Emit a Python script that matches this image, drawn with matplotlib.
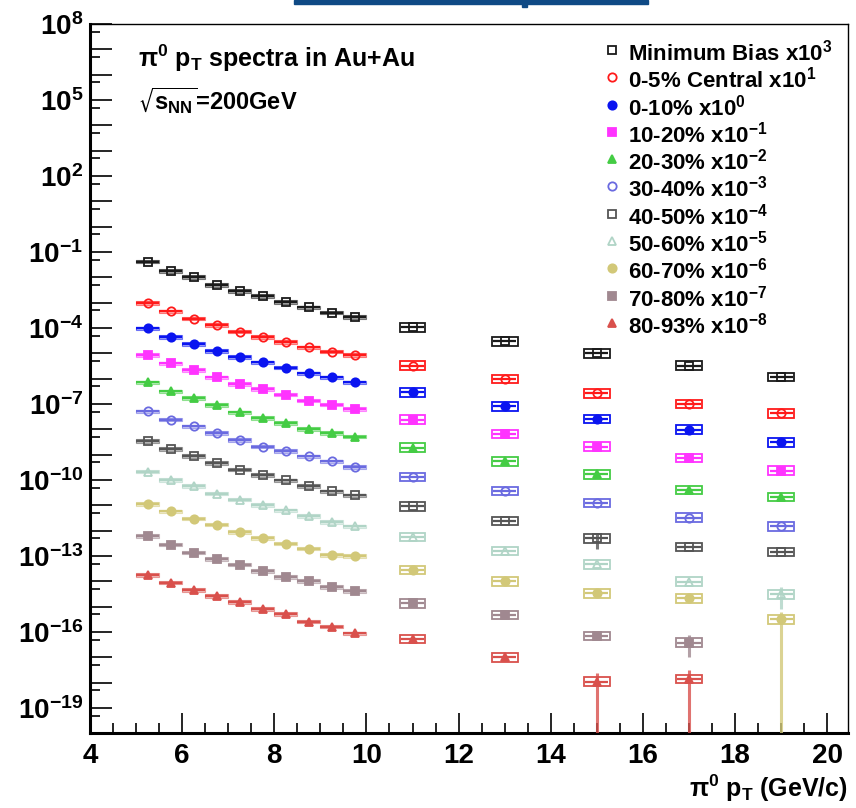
import numpy as np
import matplotlib.pyplot as plt
from matplotlib.patches import Rectangle
from matplotlib.ticker import FixedLocator, FuncFormatter, NullFormatter

plt.rcParams['font.family'] = ['Liberation Sans', 'DejaVu Sans']
plt.rcParams['font.weight'] = 'bold'
plt.rcParams['mathtext.default'] = 'regular'

# pi0 pT bins (GeV/c)
pt = [5.25, 5.75, 6.25, 6.75, 7.25, 7.75, 8.25, 8.75, 9.25, 9.75, 11, 13, 15, 17, 19]

labels = ['Minimum Bias x10$^{3}$', '0-5% Central x10$^{1}$', '0-10% x10$^{0}$',
          '10-20% x10$^{-1}$', '20-30% x10$^{-2}$', '30-40% x10$^{-3}$',
          '40-50% x10$^{-4}$', '50-60% x10$^{-5}$', '60-70% x10$^{-6}$',
          '70-80% x10$^{-7}$', '80-93% x10$^{-8}$']

# scaled yields
min_bias = [4.17e-2, 1.78e-2, 1.02e-2, 5.01e-3, 2.88e-3, 1.82e-3, 1.07e-3, 6.46e-4, 4.07e-4, 2.75e-4,
            1.07e-4, 2.95e-5, 1.0e-5, 3.24e-6, 1.17e-6]
c0_5 = [9.55e-4, 4.47e-4, 2.34e-4, 1.32e-4, 7.24e-5, 4.47e-5, 2.82e-5, 1.70e-5, 1.17e-5, 8.51e-6,
        3.24e-6, 9.55e-7, 2.63e-7, 1.0e-7, 4.27e-8]
c0_10 = [9.55e-5, 4.47e-5, 2.29e-5, 1.26e-5, 7.24e-6, 4.37e-6, 2.75e-6, 1.62e-6, 1.12e-6, 7.08e-7,
         2.88e-7, 8.13e-8, 2.57e-8, 9.77e-9, 3.09e-9]
c10_20 = [8.51e-6, 3.98e-6, 2.19e-6, 1.12e-6, 6.17e-7, 3.89e-7, 2.34e-7, 1.35e-7, 9.33e-8, 6.31e-8,
          2.40e-8, 6.61e-9, 2.09e-9, 7.24e-10, 2.34e-10]
c20_30 = [7.08e-7, 3.16e-7, 1.74e-7, 9.12e-8, 4.68e-8, 2.82e-8, 1.78e-8, 1.05e-8, 7.08e-9, 5.13e-9,
          1.86e-9, 5.50e-10, 1.66e-10, 4.07e-11, 2.14e-11]
c30_40 = [5.13e-8, 2.40e-8, 1.29e-8, 7.08e-9, 3.80e-9, 2.09e-9, 1.38e-9, 8.51e-10, 5.37e-10, 3.24e-10,
          1.29e-10, 3.63e-11, 1.23e-11, 3.24e-12, 1.48e-12]
c40_50 = [3.39e-9, 1.70e-9, 8.71e-10, 4.68e-10, 2.57e-10, 1.58e-10, 9.55e-11, 5.75e-11, 3.55e-11, 2.45e-11,
          9.12e-12, 2.40e-12, 4.90e-13, 2.29e-13, 1.45e-13]
c50_60 = [2.14e-10, 1.02e-10, 5.75e-11, 2.88e-11, 1.66e-11, 1.05e-11, 6.31e-12, 3.80e-12, 2.19e-12, 1.48e-12,
          5.62e-13, 1.58e-13, 4.68e-14, 9.55e-15, 3.02e-15]
c60_70 = [1.15e-11, 5.75e-12, 2.95e-12, 1.74e-12, 8.91e-13, 5.13e-13, 3.09e-13, 1.95e-13, 1.07e-13, 9.77e-14,
          2.75e-14, 1.0e-14, 3.31e-15, 2.09e-15, 3.16e-16]
c70_80 = [6.17e-13, 2.82e-13, 1.35e-13, 7.41e-14, 4.57e-14, 2.51e-14, 1.51e-14, 1.05e-14, 6.03e-15, 4.07e-15,
          1.35e-15, 4.68e-16, 6.92e-17, 3.80e-17, np.nan]
c80_93 = [1.74e-14, 8.91e-15, 4.47e-15, 2.57e-15, 1.55e-15, 7.94e-16, 5.01e-16, 2.57e-16, 1.62e-16, 8.71e-17,
          5.25e-17, 1.0e-17, 1.10e-18, 1.41e-18, np.nan]

# visible vertical (stat) error bars: (series index, pT, lower edge, upper edge)
v_errors = [(10, 15, 1e-21, 2.3e-18), (10, 17, 1e-21, 3.2e-18),
            (8, 19, 1e-21, 6.0e-16), (7, 19, 8.0e-16, 6.0e-15),
            (9, 17, 1.07e-17, 7.5e-17), (6, 15, 1.8e-13, 8.0e-13)]

spectra = [min_bias, c0_5, c0_10, c10_20, c20_30, c30_40, c40_50, c50_60, c60_70, c70_80, c80_93]
colors = ['#1a1a1a', '#ff1a1a', '#0a14f0', '#ff33ff', '#44cc44', '#6a6ae0',
          '#555555', '#b0d4c6', '#d2c878', '#a08890', '#d9504c']
markers = ['s', 'o', 'o', 's', '^', 'o', 's', '^', 'o', 's', '^']
filled = [False, False, True, True, True, False, False, False, True, True, True]

fig = plt.figure(figsize=(8.56, 8.08), dpi=100)
ax = fig.add_axes([0.1051, 0.0925, 0.8855, 0.8778])
ax.set_yscale('log')

for vals, c, m, f in zip(spectra, colors, markers, filled):
    for x, y in zip(pt, vals):
        if np.isnan(y):
            continue
        if x < 10:
            hw, fy = 0.25, 10 ** 0.07
            ax.add_patch(Rectangle((x - hw, y / fy), 2 * hw, y * fy - y / fy,
                                   facecolor=c, alpha=0.35, edgecolor='none', zorder=2))
            ax.add_patch(Rectangle((x - hw, y / fy), 2 * hw, y * fy - y / fy,
                                   facecolor='none', edgecolor=c, alpha=0.6, lw=0.8, zorder=2))
        else:
            hw, fy = 0.28, 10 ** 0.17
            ax.add_patch(Rectangle((x - hw, y / fy), 2 * hw, y * fy - y / fy,
                                   facecolor='white', edgecolor=c, lw=1.3, zorder=2))
    ax.errorbar(pt, vals, xerr=0.25, fmt=m, color=c, ms=6, mew=1.3,
                mfc=c if f else 'none', elinewidth=1.6, capsize=0, zorder=4)

for s, x, lo, hi in v_errors:
    ax.vlines(x, lo, hi, color=colors[s], lw=2.2, alpha=0.8, zorder=3)

ax.set_xlim(4, 20.45)
ax.set_ylim(1e-20, 1e8)

# ticks
ax.xaxis.set_major_locator(FixedLocator(np.arange(4, 21, 2)))
ax.xaxis.set_minor_locator(FixedLocator(np.arange(4, 20.6, 0.5)))
ax.yaxis.set_major_locator(FixedLocator([10.0 ** k for k in range(-20, 9)]))
ax.yaxis.set_minor_locator(FixedLocator([5 * 10.0 ** k for k in range(-21, 8)]))
ax.yaxis.set_major_formatter(FuncFormatter(
    lambda v, p: '10$^{%d}$' % round(np.log10(v)) if (round(np.log10(v)) - 8) % 3 == 0 else ''))
ax.yaxis.set_minor_formatter(NullFormatter())
ax.tick_params(axis='y', which='major', direction='in', length=16, width=1.2, labelsize=20, pad=5)
ax.tick_params(axis='y', which='minor', direction='in', length=7.5, width=1.2)
ax.tick_params(axis='x', which='major', direction='in', length=14.5, width=1.2, labelsize=20, pad=7)
ax.tick_params(axis='x', which='minor', direction='in', length=7, width=1.2)
for lab in ax.get_xticklabels() + ax.get_yticklabels():
    lab.set_fontweight('bold')

ax.spines['left'].set_linewidth(2.2)
ax.spines['bottom'].set_linewidth(2.2)
ax.spines['top'].set_linewidth(1.0)
ax.spines['right'].set_linewidth(1.0)

ax.set_xlabel(r'$\pi^{0}$ p$_{T}$ (GeV/c)', fontsize=18, fontweight='bold', loc='right')
ax.xaxis.set_label_coords(1.0, -0.056)

ax.text(0.063, 0.939, r'$\pi^{0}$ p$_{T}$ spectra in Au+Au', transform=ax.transAxes,
        fontsize=18, fontweight='bold', va='baseline')
ax.text(0.063, 0.879, r'$\sqrt{s_{NN}}$=200GeV', transform=ax.transAxes,
        fontsize=17, fontweight='bold', va='baseline')

# legend
for i, (lab, c, m, f) in enumerate(zip(labels, colors, markers, filled)):
    yl = (733.3 - (50 + 27.3 * i)) / 709.3
    ax.plot([0.689], [yl], transform=ax.transAxes, marker=m, color=c, ms=6, mew=1.3,
            mfc=c if f else 'none', ls='none', clip_on=False)
    ax.text(0.710, yl, lab, transform=ax.transAxes, fontsize=16, fontweight='bold',
            va='center_baseline', ha='left')

# cut-off banner at top of slide
fig.patches.append(Rectangle((294 / 856, 1 - 3.5 / 808), 354 / 856, 3.5 / 808,
                             transform=fig.transFigure, color='#0f4a85'))
fig.patches.append(Rectangle((522 / 856, 1 - 6.5 / 808), 5 / 856, 6.5 / 808,
                             transform=fig.transFigure, color='#0f4a85'))

fig.savefig('out.png', dpi=100)
